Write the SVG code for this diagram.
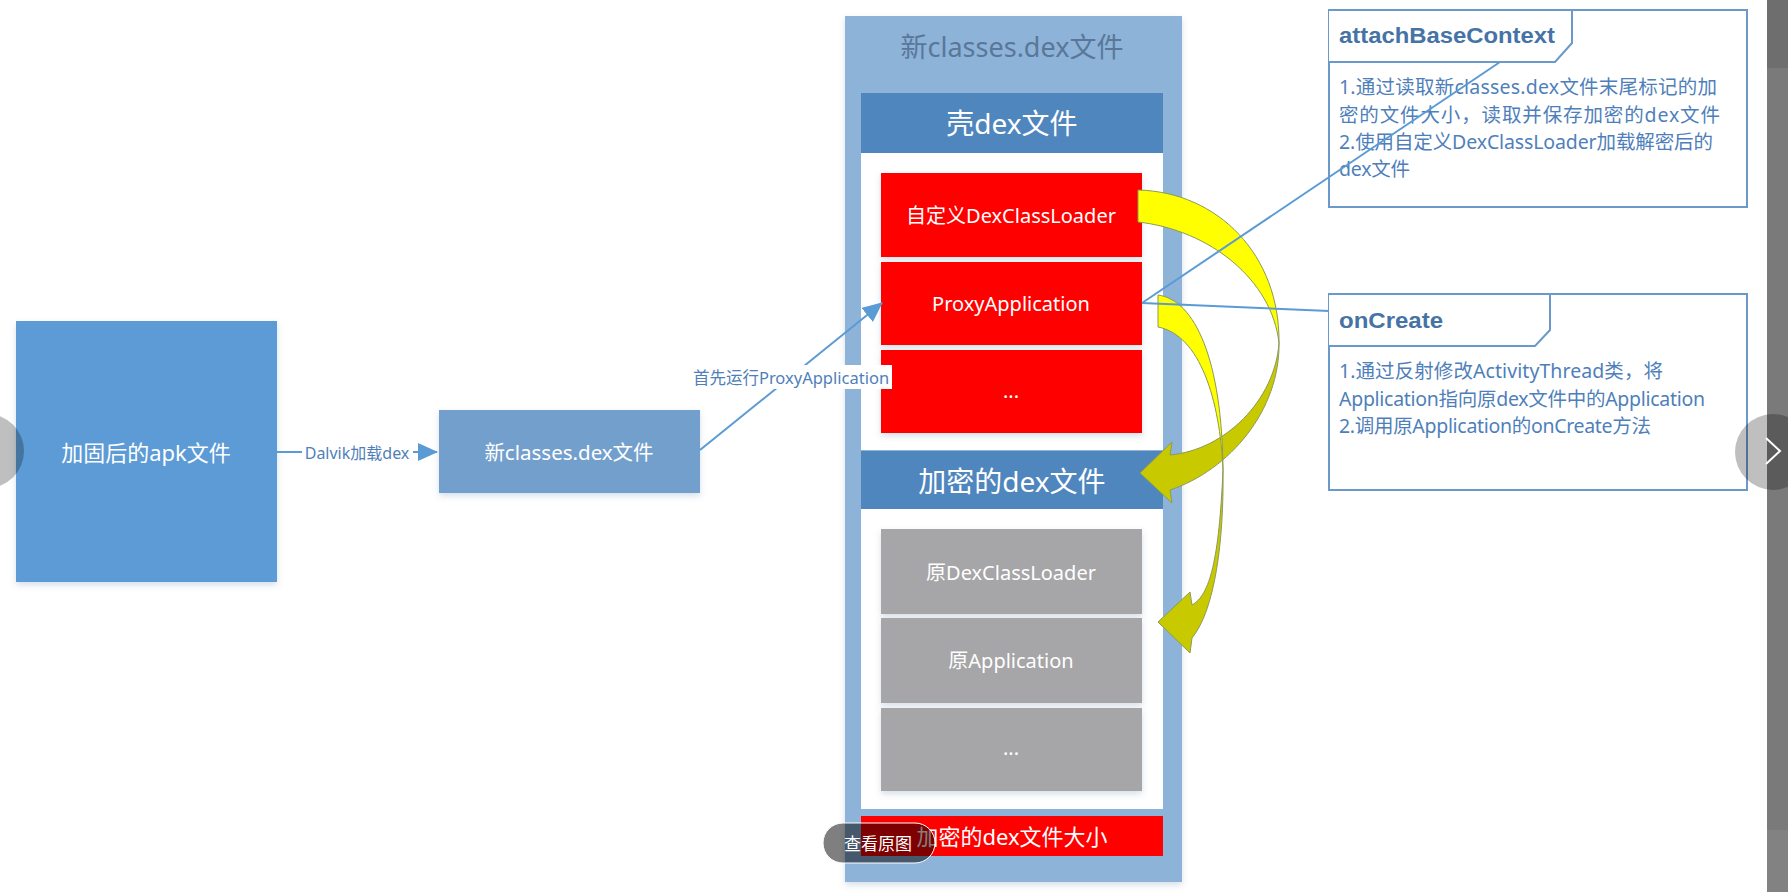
<svg xmlns="http://www.w3.org/2000/svg" width="1788" height="892" viewBox="0 0 1788 892">
<style>
  .cjk { font-family: "Noto Sans", "Noto Sans CJK SC", sans-serif; }
  .wt { fill: #ffffff; text-anchor: middle; dominant-baseline: central; }
  .lbl { fill: #4f7fb9; text-anchor: middle; dominant-baseline: central; }
  .body { fill: #4f7fba; font-size: 19.5px; dominant-baseline: central; }
  .ttl { font-family: "Liberation Sans", Arial, sans-serif; font-weight: bold; fill: #4673a6; font-size: 22px; }
  .note { fill: #ffffff; stroke: #6b99c9; stroke-width: 2; }
  .conn { fill: none; stroke: #5b9bd5; stroke-width: 2; }
  .red { fill: #ff0000; }
  .gray { fill: #a6a5a7; }
  .hdr { fill: #4f86be; }
  .back { fill: #ffff00; stroke: #8c9a56; stroke-width: 1; }
  .front { fill: #c9c900; stroke: #8c9a56; stroke-width: 1; }
</style>
<defs>
  <filter id="sh" x="-10%" y="-10%" width="120%" height="120%">
    <feDropShadow dx="0" dy="3" stdDeviation="3" flood-color="#5b7fa8" flood-opacity="0.25"/>
  </filter>
  <marker id="ah" viewBox="0 0 20 18" refX="19" refY="9" markerWidth="20" markerHeight="18" markerUnits="userSpaceOnUse" orient="auto">
    <path d="M0,0 L20,9 L0,18 Z" fill="#5b9bd5"/>
  </marker>
</defs>
<rect x="0" y="0" width="1788" height="892" fill="#ffffff"/>

<g id="apk">
  <rect x="16" y="321" width="261" height="261" fill="#5b9bd5" filter="url(#sh)"/>
  <text class="cjk wt" x="146" y="452" font-size="22">加固后的apk文件</text>
</g>

<g id="newdex-small">
  <rect x="439" y="410" width="261" height="83" fill="#739fcd" filter="url(#sh)"/>
  <text class="cjk wt" x="569" y="452" font-size="20.5">新classes.dex文件</text>
</g>

<g id="container">
  <rect x="845" y="16" width="337" height="866" fill="#8db3d9" filter="url(#sh)"/>
  <text class="cjk" x="1012" y="46" font-size="27" fill="#5a7799" text-anchor="middle" dominant-baseline="central">新classes.dex文件</text>
</g>

<g id="shell-dex">
  <rect x="861" y="93" width="302" height="60" class="hdr"/>
  <text class="cjk wt" x="1012" y="123" font-size="28">壳dex文件</text>
  <rect x="861" y="153" width="302" height="297" fill="#ffffff"/>
</g>

<g id="custom-loader">
  <rect x="881" y="173" width="261" height="84" class="red" filter="url(#sh)"/>
  <text class="cjk wt" x="1011" y="215" font-size="20">自定义DexClassLoader</text>
</g>
<g id="proxy-app">
  <rect x="881" y="262" width="261" height="83" class="red" filter="url(#sh)"/>
  <text class="cjk wt" x="1011" y="303" font-size="20">ProxyApplication</text>
</g>
<g id="shell-more">
  <rect x="881" y="350" width="261" height="83" class="red" filter="url(#sh)"/>
  <text class="cjk wt" x="1011" y="390" font-size="20">...</text>
</g>

<g id="enc-dex">
  <rect x="861" y="451" width="302" height="58" class="hdr"/>
  <text class="cjk wt" x="1012" y="481" font-size="28">加密的dex文件</text>
  <rect x="861" y="509" width="302" height="300" fill="#ffffff"/>
</g>

<g id="orig-loader">
  <rect x="881" y="529" width="261" height="85" class="gray" filter="url(#sh)"/>
  <text class="cjk wt" x="1011" y="572" font-size="20">原DexClassLoader</text>
</g>
<g id="orig-app">
  <rect x="881" y="618" width="261" height="85" class="gray" filter="url(#sh)"/>
  <text class="cjk wt" x="1011" y="660" font-size="20">原Application</text>
</g>
<g id="orig-more">
  <rect x="881" y="708" width="261" height="83" class="gray" filter="url(#sh)"/>
  <text class="cjk wt" x="1011" y="747" font-size="20">...</text>
</g>

<g id="enc-size">
  <rect x="861" y="816" width="302" height="40" class="red"/>
  <text class="cjk wt" x="1012" y="836" font-size="22">加密的dex文件大小</text>
</g>

<g id="attach-note">
  <rect x="1329" y="10" width="418" height="197" class="note"/>
  <path d="M1329,10 L1572,10 L1572,43 L1555,62 L1329,62" class="note"/>
  <text class="ttl" x="1339" y="43" textLength="216" lengthAdjust="spacingAndGlyphs">attachBaseContext</text>
  <text class="cjk body" x="1339" y="86" textLength="378">1.通过读取新classes.dex文件末尾标记的加</text>
  <text class="cjk body" x="1339" y="114" textLength="381">密的文件大小，读取并保存加密的dex文件</text>
  <text class="cjk body" x="1339" y="141" textLength="374">2.使用自定义DexClassLoader加载解密后的</text>
  <text class="cjk body" x="1339" y="168" textLength="71">dex文件</text>
</g>

<g id="oncreate-note">
  <rect x="1329" y="294" width="418" height="196" class="note"/>
  <path d="M1329,294 L1550,294 L1550,330 L1535,346 L1329,346" class="note"/>
  <text class="ttl" x="1339" y="328" textLength="104" lengthAdjust="spacingAndGlyphs">onCreate</text>
  <text class="cjk body" x="1339" y="370" textLength="324">1.通过反射修改ActivityThread类，将</text>
  <text class="cjk body" x="1339" y="398" textLength="366">Application指向原dex文件中的Application</text>
  <text class="cjk body" x="1339" y="425" textLength="312">2.调用原Application的onCreate方法</text>
</g>

<g id="connectors">
  <!-- big curved arrow: custom loader -> encrypted dex -->
  <path class="back" d="M1138,190 C1218,192 1280,255 1279,343 C1272,280 1210,230 1138,222 Z"/>
  <path class="front" d="M1279,343 C1280,410 1230,470 1170,490 L1172,503 L1140,473 L1172,442 L1170,455 C1225,450 1275,400 1279,343 Z"/>
  <!-- small curved arrow: proxy app -> original app -->
  <path class="back" d="M1158,295 C1195,300 1222,360 1223,470 C1220,400 1200,335 1158,327 Z"/>
  <path class="front" d="M1223,470 C1224,540 1215,610 1192,638 L1190,653 L1158,622 L1190,592 L1192,605 C1210,595 1219,560 1223,470 Z"/>

  <line class="conn" x1="277" y1="452" x2="437" y2="452" marker-end="url(#ah)"/>
  <rect x="302" y="441" width="111" height="23" fill="#ffffff"/>
  <text class="cjk lbl" x="357" y="453" font-size="16">Dalvik加载dex</text>

  <line class="conn" x1="700" y1="450" x2="882" y2="303" marker-end="url(#ah)"/>
  <rect x="690" y="365" width="202" height="24" fill="#ffffff"/>
  <text class="cjk lbl" x="791" y="377" font-size="16.5">首先运行ProxyApplication</text>

  <line class="conn" x1="1142" y1="303" x2="1500" y2="62"/>
  <line class="conn" x1="1142" y1="303" x2="1329" y2="311"/>
</g>

<g id="viewer-ui">
  <rect x="1767" y="0" width="21" height="892" fill="#7a7a7a"/>
  <rect x="1767" y="0" width="21" height="68" fill="#6e6e6e"/>
  <rect x="1767" y="830" width="21" height="62" fill="#828282"/>
  <circle cx="1773" cy="452" r="38" fill="#000000" fill-opacity="0.25"/>
  <polyline points="1766,438 1780,451 1766,464" fill="none" stroke="#ffffff" stroke-width="2"/>
  <circle cx="-13" cy="451" r="37" fill="#000000" fill-opacity="0.25"/>
  <rect x="823" y="823" width="112" height="40" rx="20" fill="#000000" fill-opacity="0.5" stroke="#ffffff" stroke-width="1"/>
  <text x="878" y="843" font-family="'Noto Sans', 'Noto Sans CJK SC', sans-serif" font-size="17" fill="#ffffff" text-anchor="middle" dominant-baseline="central">查看原图</text>
</g>
</svg>
